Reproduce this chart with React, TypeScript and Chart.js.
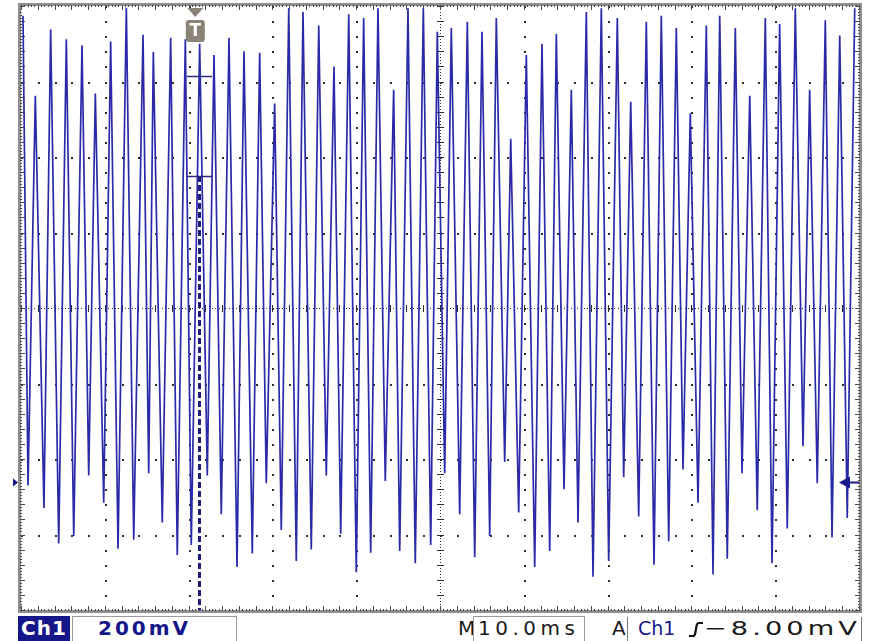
import React, { useEffect, useRef } from "react";
import { Chart, registerables } from "chart.js";

Chart.register(...registerables);

// Time (ms) of each turning point of the Ch1 trace, 10 ms/div, 10 divisions
const TIME_MS = [
  0.24, 0.84, 1.71, 2.74, 3.54, 4.5, 5.41, 6.29, 7.28, 8.08,
  8.87, 9.87, 10.7, 11.58, 12.57, 13.45, 14.56, 15.24, 15.79, 16.86,
  17.86, 18.65, 19.61, 20.32, 21.32, 22.23, 23.03, 23.9, 24.82, 25.78,
  26.61, 27.6, 28.48, 29.27, 30.27, 31.06, 31.95, 32.85, 33.65, 34.64,
  35.53, 36.43, 37.35, 38.15, 39.11, 40.01, 40.89, 41.73, 42.6, 43.47,
  44.47, 45.19, 46.18, 47.05, 48.01, 48.89, 49.68, 50.56, 51.35, 52.35,
  53.26, 54.14, 55.01, 55.93, 56.72, 57.72, 58.44, 59.39, 60.3, 61.3,
  62.17, 63.09, 63.88, 64.8, 65.67, 66.47, 67.46, 68.26, 69.25, 70.13,
  71.16, 71.92, 72.76, 73.71, 74.62, 75.54, 76.41, 77.29, 78.2, 79.0,
  79.87, 80.79, 81.78, 82.58, 83.38, 84.28, 85.24, 86.04, 86.96, 87.86,
  88.82, 89.62, 90.53, 91.44, 92.4, 93.32, 94.11, 95.02, 95.98, 96.78,
  97.7, 98.6, 99.49,
];

// Ch1 voltage (mV) at each turning point, 200 mV/div
const CH1_MV = [
  774, -470, 562, -530, 738, -624, 712, -604, 696, -444,
  568, -516, 706, -638, 796, -614, 724, -438, 678, -568,
  716, -654, 712, -628, 700, -444, 670, -546, 716, -686,
  680, -650, 676, -464, 542, -588, 794, -670, 784, -640,
  748, -444, 640, -598, 778, -700, 768, -648, 794, -458,
  578, -644, 794, -676, 794, -628, 732, -438, 742, -546,
  758, -660, 732, -604, 768, -408, 448, -542, 670, -686,
  700, -644, 726, -480, 578, -568, 784, -712, 794, -670,
  768, -448, 546, -552, 758, -680, 774, -618, 742, -428,
  516, -516, 748, -706, 774, -664, 742, -438, 562, -536,
  768, -676, 752, -584, 794, -366, 578, -464, 762, -608,
  722, -556, 794,
];

// Axis ranges / divisions
const X_RANGE_MS = [0, 100];
const X_DIV_MS = 10;
const Y_RANGE_MV = [-800, 800];
const Y_DIV_MV = 200;

// Markers
const TRIGGER_MS = 20.8;
const CURSOR_MS = 21.3;
const CURSOR_SPAN_MS = [19.8, 22.8];
const CURSOR_LEVELS_MV = [614, 350];
const CH1_MARKER_MV = -462;

// Status bar labels
const CH_LABEL = "Ch1";
const VOLT_LABEL = "200mV";
const TIME_LABEL = "10.0ms";
const TRIG_LEVEL_LABEL = "\u22128.00mV";

const TRACE = "#2a2aaa";
const NAVY = "#16168a";

const graticule = {
  id: "graticule",
  beforeDatasetsDraw(chart: any) {
    const { ctx, chartArea: a, scales } = chart;
    const x = scales.x;
    const y = scales.y;
    const nx = (X_RANGE_MS[1] - X_RANGE_MS[0]) / X_DIV_MS;
    const ny = (Y_RANGE_MV[1] - Y_RANGE_MV[0]) / Y_DIV_MV;
    ctx.save();
    ctx.fillStyle = "#2e2e2e";
    for (let i = 1; i < nx; i++) {
      const px = Math.round(x.getPixelForValue(X_RANGE_MS[0] + i * X_DIV_MS));
      const center = i === nx / 2;
      const steps = ny * (center ? 25 : 5);
      for (let j = 0; j <= steps; j++) {
        const py = Math.round(y.getPixelForValue(Y_RANGE_MV[0] + (j * Y_DIV_MV * ny) / steps));
        if (center && j % 5 === 0) ctx.fillRect(px - 3, py, 7, 1);
        else if (center) ctx.fillRect(px, py, 1, 1);
        else ctx.fillRect(px, py, 2, 2);
      }
    }
    for (let i = 1; i < ny; i++) {
      const py = Math.round(y.getPixelForValue(Y_RANGE_MV[0] + i * Y_DIV_MV));
      const center = i === ny / 2;
      const steps = nx * (center ? 25 : 5);
      for (let j = 0; j <= steps; j++) {
        const px = Math.round(x.getPixelForValue(X_RANGE_MS[0] + (j * X_DIV_MS * nx) / steps));
        if (center && j % 5 === 0) ctx.fillRect(px, py - 3, 1, 7);
        else if (center) ctx.fillRect(px, py, 1, 1);
        else ctx.fillRect(px, py, 2, 2);
      }
    }
    ctx.strokeStyle = "#8e8e8e";
    ctx.lineWidth = 3;
    ctx.strokeRect(a.left - 1.5, a.top - 1.5, a.right - a.left + 3, a.bottom - a.top + 3);
    ctx.fillStyle = "#4a4a4a";
    const sx = nx * 25;
    for (let j = 0; j <= sx; j++) {
      const px = Math.round(x.getPixelForValue(X_RANGE_MS[0] + (j * X_DIV_MS * nx) / sx));
      const len = j % 5 === 0 ? 5 : 2;
      ctx.fillRect(px, a.top - 1, 1, len);
      ctx.fillRect(px, a.bottom - len + 1, 1, len);
    }
    const sy = ny * 25;
    for (let j = 0; j <= sy; j++) {
      const py = Math.round(y.getPixelForValue(Y_RANGE_MV[0] + (j * Y_DIV_MV * ny) / sy));
      const len = j % 5 === 0 ? 5 : 2;
      ctx.fillRect(a.left - 1, py, len, 1);
      ctx.fillRect(a.right - len + 1, py, len, 1);
    }
    ctx.restore();
  },
  afterDatasetsDraw(chart: any) {
    const { ctx, chartArea: a, scales } = chart;
    const x = scales.x;
    const y = scales.y;
    ctx.save();
    const cx = Math.round(x.getPixelForValue(CURSOR_MS)) + 0.5;
    const yTop = y.getPixelForValue(CURSOR_LEVELS_MV[1]);
    ctx.strokeStyle = "#1e1e7a";
    ctx.lineWidth = 3;
    ctx.setLineDash([6, 3]);
    ctx.beginPath();
    ctx.moveTo(cx, yTop);
    ctx.lineTo(cx, a.bottom);
    ctx.stroke();
    ctx.setLineDash([]);
    ctx.lineWidth = 1.5;
    ctx.strokeStyle = "#2a2a80";
    const bx0 = x.getPixelForValue(CURSOR_SPAN_MS[0]);
    const bx1 = x.getPixelForValue(CURSOR_SPAN_MS[1]);
    for (const lv of CURSOR_LEVELS_MV) {
      const py = Math.round(y.getPixelForValue(lv)) + 0.5;
      ctx.beginPath();
      ctx.moveTo(bx0, py);
      ctx.lineTo(bx1, py);
      ctx.stroke();
    }
    const tx = x.getPixelForValue(TRIGGER_MS);
    ctx.fillStyle = "#8b8278";
    ctx.beginPath();
    ctx.moveTo(tx - 8, a.top + 2);
    ctx.lineTo(tx + 8, a.top + 2);
    ctx.lineTo(tx, a.top + 11);
    ctx.closePath();
    ctx.fill();
    const r = 3, bw = 19, bh = 22, bx = tx - bw / 2, by = a.top + 14;
    ctx.beginPath();
    ctx.moveTo(bx + r, by);
    ctx.lineTo(bx + bw - r, by);
    ctx.quadraticCurveTo(bx + bw, by, bx + bw, by + r);
    ctx.lineTo(bx + bw, by + bh - r);
    ctx.quadraticCurveTo(bx + bw, by + bh, bx + bw - r, by + bh);
    ctx.lineTo(bx + r, by + bh);
    ctx.quadraticCurveTo(bx, by + bh, bx, by + bh - r);
    ctx.lineTo(bx, by + r);
    ctx.quadraticCurveTo(bx, by, bx + r, by);
    ctx.fill();
    ctx.fillStyle = "#ffffff";
    ctx.font = "bold 17px 'DejaVu Sans'";
    ctx.textAlign = "center";
    ctx.textBaseline = "middle";
    ctx.fillText("T", tx, by + bh / 2 + 1);
    const ly = Math.round(y.getPixelForValue(CH1_MARKER_MV)) + 0.5;
    ctx.fillStyle = NAVY;
    ctx.beginPath();
    ctx.moveTo(a.right - 20, ly);
    ctx.lineTo(a.right - 9, ly - 6);
    ctx.lineTo(a.right - 9, ly + 6);
    ctx.closePath();
    ctx.fill();
    ctx.strokeStyle = NAVY;
    ctx.lineWidth = 2;
    ctx.beginPath();
    ctx.moveTo(a.right - 12, ly);
    ctx.lineTo(a.right, ly);
    ctx.stroke();
    ctx.beginPath();
    ctx.moveTo(a.left - 8, ly - 4);
    ctx.lineTo(a.left - 3, ly);
    ctx.lineTo(a.left - 8, ly + 4);
    ctx.closePath();
    ctx.fill();
    ctx.restore();
  },
};

const textBase: React.CSSProperties = {
  position: "absolute",
  top: 616,
  height: 25,
  lineHeight: "25px",
  fontFamily: "'DejaVu Sans', sans-serif",
  fontWeight: "bold",
  fontSize: 20,
  letterSpacing: 3,
  whiteSpace: "nowrap",
  color: "#1a1a1a",
};

export default function App() {
  const ref = useRef<HTMLCanvasElement | null>(null);
  useEffect(() => {
    if (!ref.current) return;
    const chart = new Chart(ref.current, {
      type: "line",
      data: {
        datasets: [
          {
            data: TIME_MS.map((t, i) => ({ x: t, y: CH1_MV[i] })),
            borderColor: TRACE,
            borderWidth: 1.7,
            pointRadius: 0,
            tension: 0,
            fill: false,
          },
        ],
      },
      options: {
        animation: false,
        responsive: false,
        devicePixelRatio: 1,
        layout: { padding: { left: 21, right: 13, top: 6, bottom: 4 } },
        scales: {
          x: { type: "linear", min: X_RANGE_MS[0], max: X_RANGE_MS[1], display: false },
          y: { type: "linear", min: Y_RANGE_MV[0], max: Y_RANGE_MV[1], display: false },
        },
        plugins: { legend: { display: false }, tooltip: { enabled: false } },
      },
      plugins: [graticule],
    });
    return () => chart.destroy();
  }, []);

  return (
    <div style={{ position: "absolute", left: 0, top: 0, width: 872, height: 641, background: "#ffffff", overflow: "hidden" }}>
      <canvas ref={ref} width={872} height={614} style={{ position: "absolute", left: 0, top: 0 }} />
      <div style={{ ...textBase, left: 18, width: 52, background: NAVY, color: "#fff", textAlign: "center", letterSpacing: 1 }}>{CH_LABEL}</div>
      <div style={{ position: "absolute", left: 72, top: 616, width: 163, height: 25, border: "1px solid #9a9a9a", borderBottom: "none" }} />
      <div style={{ ...textBase, left: 98, color: NAVY }}>{VOLT_LABEL}</div>
      <div style={{ ...textBase, left: 458, fontWeight: "normal", letterSpacing: 0 }}>M</div>
      <div style={{ position: "absolute", left: 473, top: 616, width: 110, height: 25, border: "1px solid #9a9a9a", borderBottom: "none" }} />
      <div style={{ ...textBase, left: 478, fontWeight: "normal", letterSpacing: 4.5 }}>{TIME_LABEL}</div>
      <div style={{ ...textBase, left: 612, fontWeight: "normal", letterSpacing: 0 }}>A</div>
      <div style={{ position: "absolute", left: 627, top: 617, width: 1, height: 24, background: "#777" }} />
      <div style={{ ...textBase, left: 638, color: NAVY, fontWeight: "normal", fontSize: 19, letterSpacing: 0 }}>{CH_LABEL}</div>
      <svg style={{ position: "absolute", left: 688, top: 621 }} width="16" height="17" viewBox="0 0 16 17">
        <path d="M1,15 L5,15 Q7,15 7.5,11 L8.5,5 Q9,2 11,2 L15,2" stroke="#111" strokeWidth="2.2" fill="none" />
      </svg>
      <div style={{ ...textBase, left: 704, fontWeight: "normal", letterSpacing: 3, transform: "scaleX(1.36)", transformOrigin: "0 50%" }}>{TRIG_LEVEL_LABEL}</div>
      <div style={{ position: "absolute", left: 861, top: 617, width: 1, height: 24, background: "#777" }} />
    </div>
  );
}
